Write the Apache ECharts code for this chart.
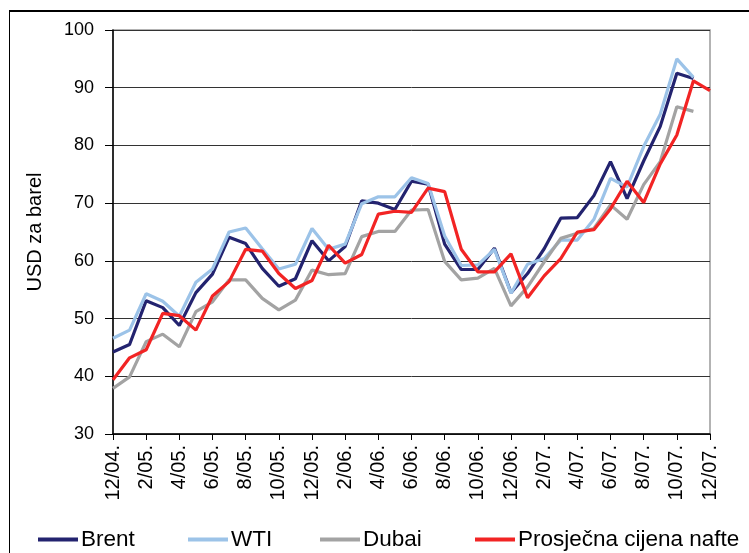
<!DOCTYPE html>
<html>
<head>
<meta charset="utf-8">
<script src="https://cdn.jsdelivr.net/npm/echarts@6/dist/echarts.min.js"></script>
<style>
  body { margin: 0; background: #fff; }
  #wrap { position: relative; width: 749px; height: 553px; }
  #chart { width: 749px; height: 553px; }
  /* okvir kao u izvornom dokumentu */
  #frame { position: absolute; left: 9px; top: 10px; right: 0; bottom: 0;
           border-top: 2px solid #000; border-left: 1px solid #000; pointer-events: none; }
</style>
</head>
<body>
<div id="wrap">
  <div id="chart"></div>
  <div id="frame"></div>
</div>
<script>
// mjeseci 12/04. - 12/07.
const months = [
  '12/04.', '1/05.', '2/05.', '3/05.', '4/05.', '5/05.', '6/05.', '7/05.', '8/05.', '9/05.', '10/05.', '11/05.',
  '12/05.', '1/06.', '2/06.', '3/06.', '4/06.', '5/06.', '6/06.', '7/06.', '8/06.', '9/06.', '10/06.', '11/06.',
  '12/06.', '1/07.', '2/07.', '3/07.', '4/07.', '5/07.', '6/07.', '7/07.', '8/07.', '9/07.', '10/07.', '11/07.',
  '12/07.'
]

const brent = [44.2, 45.5, 53.1, 51.9, 48.8, 54.5, 57.7, 64.1, 63.0, 58.7, 55.6, 56.9,
  63.5, 60.0, 62.5, 70.4, 70.0, 68.9, 73.8, 73.3, 62.9, 58.5, 58.5, 62.2,
  54.5, 57.8, 62.1, 67.4, 67.5, 71.3, 77.2, 70.8, 77.3, 83.3, 92.5, 91.6]

const wti = [46.6, 48.0, 54.3, 53.0, 50.4, 56.3, 58.6, 65.0, 65.7, 62.1, 58.6, 59.4,
  65.6, 62.0, 62.9, 69.9, 71.1, 71.1, 74.4, 73.4, 64.3, 59.2, 59.3, 62.0,
  54.4, 59.4, 60.4, 63.6, 63.6, 67.2, 74.3, 72.8, 79.8, 85.4, 95.0, 91.8]

const dubai = [37.9, 39.9, 46.0, 47.3, 45.1, 51.2, 52.9, 56.7, 56.7, 53.5, 51.5, 53.2,
  58.4, 57.6, 57.8, 64.2, 65.1, 65.1, 68.8, 68.9, 59.9, 56.7, 57.0, 58.7,
  52.2, 55.5, 59.8, 63.9, 64.8, 65.6, 69.7, 67.2, 73.2, 77.2, 86.7, 85.9]

const prosjek = [39.4, 43.2, 44.6, 50.9, 50.5, 48.0, 53.9, 56.4, 62.0, 61.7, 57.8, 55.2,
  56.6, 62.7, 59.6, 61.1, 68.1, 68.6, 68.4, 72.6, 72.0, 62.0, 58.1, 58.1,
  61.2, 53.6, 57.4, 60.4, 65.0, 65.4, 69.0, 73.8, 70.1, 76.8, 81.8, 91.2, 89.5]

const seriesNames = ['Brent', 'WTI', 'Dubai', 'Prosječna cijena nafte']
const seriesColors = ['#23236f', '#9cc3e8', '#a3a3a3', '#f22424']
const legendLeft = [38, 188, 320, 475]

const chart = echarts.init(document.getElementById('chart'))
const fontFam = 'Liberation Sans, Arial, sans-serif'

const option = {
  animation: false,
  textStyle: { fontFamily: fontFam, color: '#000' },
  grid: {
    left: 113, right: 39, top: 30, bottom: 119,
    show: true, borderColor: '#9a9a9a', borderWidth: 1.5
  },
  legend: seriesNames.map((n, i) => ({
    data: [n],
    left: legendLeft[i],
    top: 528,
    padding: 0,
    icon: 'rect',
    itemWidth: 40,
    itemHeight: 4,
    itemGap: 4,
    textStyle: { fontSize: 22.5, fontFamily: fontFam, color: '#000', padding: [0, 0, 0, -2] }
  })),
  xAxis: {
    type: 'category',
    data: months,
    boundaryGap: false,
    axisLine: { lineStyle: { color: '#000', width: 1.5 } },
    axisTick: { interval: 1, length: 6, lineStyle: { color: '#000' } },
    axisLabel: { interval: 1, rotate: 90, fontSize: 20, margin: 11, color: '#000' },
    splitLine: { show: false }
  },
  yAxis: {
    type: 'value',
    min: 30, max: 100, interval: 10,
    name: 'USD za barel',
    nameLocation: 'middle',
    nameGap: 68,
    nameTextStyle: { fontSize: 20, color: '#000' },
    axisLine: { show: true, lineStyle: { color: '#000', width: 1.5 } },
    axisTick: { show: true, length: 8, lineStyle: { color: '#000' } },
    axisLabel: { fontSize: 18, margin: 19, color: '#000' },
    splitLine: { lineStyle: { color: '#333', width: 1 } }
  },
  series: [brent, wti, dubai, prosjek].map((d, i) => ({
    name: seriesNames[i],
    type: 'line',
    data: d,
    symbol: 'none',
    color: seriesColors[i],
    lineStyle: { width: 3.2, color: seriesColors[i] }
  }))
}

chart.setOption(option)
</script>
</body>
</html>
